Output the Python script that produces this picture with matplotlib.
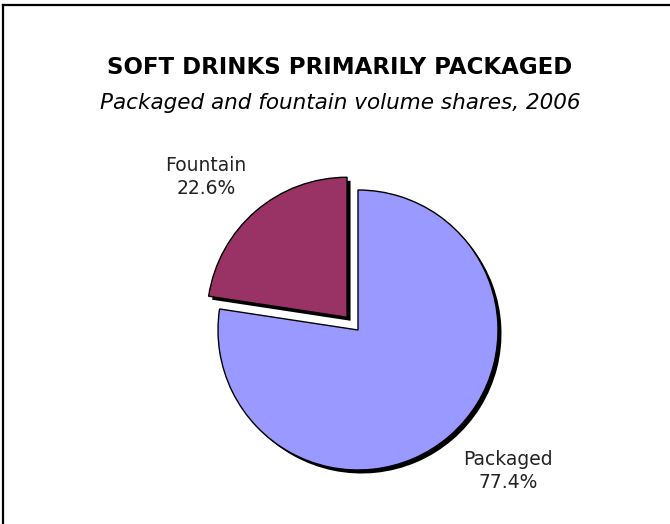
import matplotlib
matplotlib.use("Agg")
import matplotlib.pyplot as plt
from matplotlib.lines import Line2D

# Données
labels = ["Fountain", "Packaged"]
shares = [22.6, 77.4]
colors = ["#993366", "#9999FF"]
explode = [0.12, 0.0]

W, H = 670, 524
fig = plt.figure(figsize=(W / 100, H / 100), dpi=100)
fig.patch.set_facecolor("white")

# Axe carré centré sur le camembert (centre ~ (358, 330) px, rayon ~140 px)
cx, cy, R = 358, 330, 140
half = 1.5 * R
ax = fig.add_axes([(cx - half) / W, (H - cy - half) / H, 2 * half / W, 2 * half / H])

# Ombre portée noire, décalée
off = 3.5 / R
ax.pie(shares, colors=["black", "black"], explode=explode, startangle=90,
       counterclock=True, center=(off, -off), radius=1.0,
       wedgeprops=dict(linewidth=0), frame=True)

# Camembert principal
ax.pie(shares, colors=colors, explode=explode, startangle=90,
       counterclock=True, radius=1.0,
       wedgeprops=dict(edgecolor="black", linewidth=1.0), frame=True)
ax.set_xlim(-1.5, 1.5)
ax.set_ylim(-1.5, 1.5)
ax.set_aspect("equal")
ax.axis("off")

# Étiquettes
ax.text(-1.086, 1.093, f"{labels[0]}\n{shares[0]}%", ha="center", va="center",
        fontsize=13.5, color="#222222", linespacing=1.3)
ax.text(1.07, -1.007, f"{labels[1]}\n{shares[1]}%", ha="center", va="center",
        fontsize=13.5, color="#222222", linespacing=1.3)

# Titres
fig.text(340 / W, 1 - 68 / H, "SOFT DRINKS PRIMARILY PACKAGED", ha="center",
         va="center", fontsize=16.5, fontweight="bold", color="black")
fig.text(340 / W, 1 - 103 / H, "Packaged and fountain volume shares, 2006",
         ha="center", va="center", fontsize=15.5, style="italic", color="black")

# Cadre (gauche et haut)
fig.add_artist(Line2D([3 / W, 3 / W], [0, 1 - 5 / H], color="black", linewidth=1.6,
                      transform=fig.transFigure))
fig.add_artist(Line2D([3 / W, 1], [1 - 5 / H, 1 - 5 / H], color="black", linewidth=1.6,
                      transform=fig.transFigure))

fig.savefig("out.png", dpi=100)
